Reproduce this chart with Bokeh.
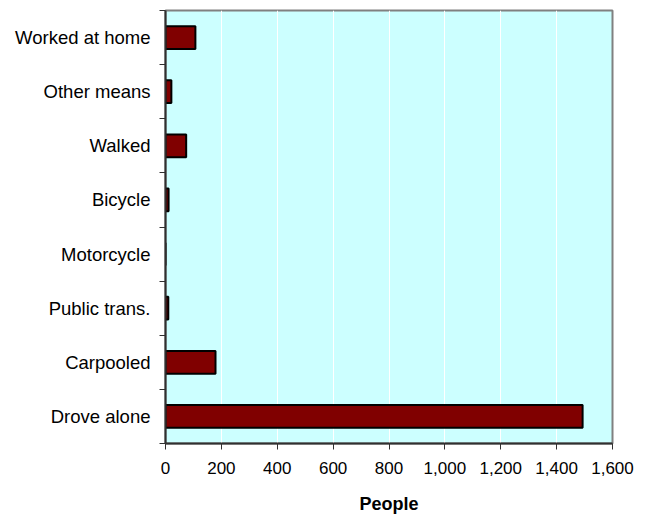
from bokeh.plotting import figure
from bokeh.models import FixedTicker, NumeralTickFormatter, Range1d
from bokeh.embed import file_html
from bokeh.resources import INLINE

# Means of transportation to work (bottom to top)
modes = ["Drove alone", "Carpooled", "Public trans.", "Motorcycle",
         "Bicycle", "Walked", "Other means", "Worked at home"]
people = [1493, 179, 10, 0, 11, 74, 21, 107]
x_ticks = [0, 200, 400, 600, 800, 1000, 1200, 1400, 1600]

FONT = "Liberation Sans"

centers = [i + 0.5 for i in range(len(modes))]
bounds = list(range(len(modes) + 1))

p = figure(width=652, height=514, frame_width=447, frame_height=433,
           min_border_left=165, min_border_right=40, min_border_top=10,
           min_border_bottom=71,
           x_range=Range1d(0, 1600), y_range=Range1d(0, len(modes)),
           output_backend="svg", toolbar_location=None)

p.background_fill_color = "#CCFFFF"
p.border_fill_color = "white"
p.outline_line_color = "#808080"
p.outline_line_width = 2

p.hbar(y=centers, left=0, right=people, height=0.42,
       fill_color="#800000", line_color="black", line_width=2)

# grid: vertical white lines only
p.ygrid.grid_line_color = None
p.xgrid.grid_line_color = "white"
p.xgrid.grid_line_width = 1
p.xgrid.ticker = FixedTicker(ticks=x_ticks)

# x axis
xa = p.xaxis[0]
xa.ticker = FixedTicker(ticks=x_ticks)
xa.formatter = NumeralTickFormatter(format="0,0")
xa.axis_line_color = "#303030"
xa.axis_line_width = 2
xa.major_tick_in = 0
xa.major_tick_out = 6
xa.major_tick_line_color = "#303030"
xa.major_tick_line_width = 1
xa.minor_tick_line_color = None
xa.major_label_text_font = FONT
xa.major_label_text_font_size = "17px"
xa.major_label_text_color = "black"
xa.major_label_standoff = 12
xa.axis_label = "People"
xa.axis_label_text_font = FONT
xa.axis_label_text_font_size = "18px"
xa.axis_label_text_font_style = "bold"
xa.axis_label_text_color = "black"
xa.axis_label_standoff = 17

# y axis: labels at category centers, tick marks at category boundaries
ya = p.yaxis[0]
ya.ticker = FixedTicker(ticks=centers, minor_ticks=bounds)
ya.major_label_overrides = {c: m for c, m in zip(centers, modes)}
ya.major_tick_line_color = None
ya.minor_tick_in = 0
ya.minor_tick_out = 6
ya.minor_tick_line_color = "#303030"
ya.minor_tick_line_width = 1
ya.axis_line_color = "#303030"
ya.axis_line_width = 2
ya.major_label_text_font = FONT
ya.major_label_text_font_size = "18.5px"
ya.major_label_text_color = "black"
ya.major_label_standoff = 9

open("out.html", "w").write(file_html(p, INLINE))
